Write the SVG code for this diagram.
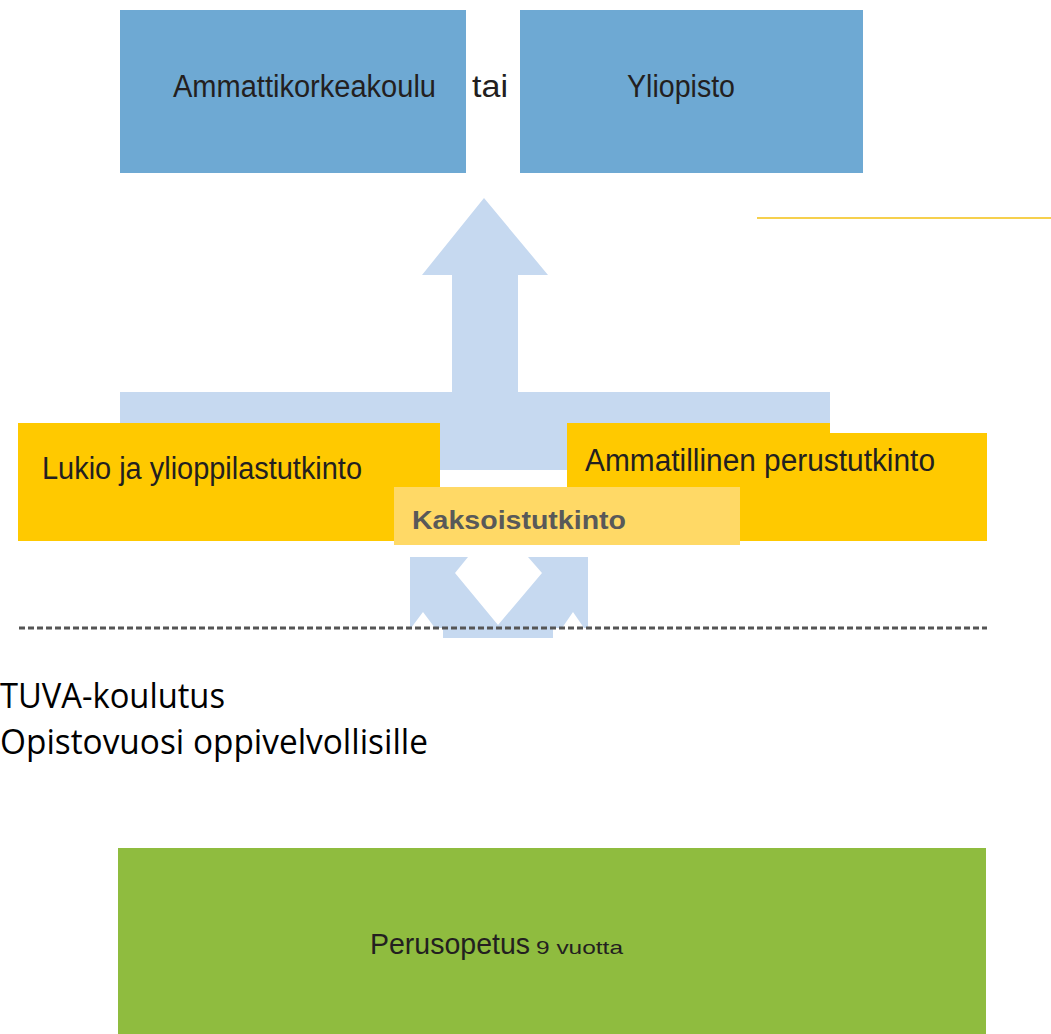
<svg xmlns="http://www.w3.org/2000/svg" width="1051" height="1034" viewBox="0 0 1051 1034">
<style>
.blue{fill:#6ea9d3}
.lb{fill:#c6d9f0}
.yel{fill:#ffc900}
.lbl{font-family:"Liberation Sans",Arial,sans-serif;fill:#231f20}
.cal{font-family:"Open Sans","Liberation Sans",sans-serif;fill:#000}
</style>
<rect width="1051" height="1034" fill="#fff"/>
<g id="connectors">
  <path class="lb" d="M452,275 L422,275 L484,198 L548,275 L518,275 L518,392 L830,392 L830,470 L120,470 L120,392 L452,392 Z"/>
  <path class="lb" d="M410,557 L468,557 L455,573 L498,625 L542,573 L528,557 L588,557 L588,628 L584,628 L573,612 L562,628 L553,628 L553,638 L443,638 L443,628 L435,628 L423,612 L411,628 L410,628 Z"/>
  <line x1="19" y1="628" x2="987" y2="628" stroke="#555" stroke-width="3" stroke-dasharray="6 3"/>
  <line x1="757" y1="218" x2="1051" y2="218" stroke="#f6d04d" stroke-width="2"/>
</g>
<g id="ammattikorkeakoulu">
  <rect class="blue" x="120" y="10" width="346" height="163"/>
  <text class="lbl" x="173" y="97" font-size="31" textLength="263" lengthAdjust="spacingAndGlyphs">Ammattikorkeakoulu</text>
</g>
<g id="tai">
  <text class="lbl" x="472" y="97" font-size="31" textLength="36" lengthAdjust="spacingAndGlyphs">tai</text>
</g>
<g id="yliopisto">
  <rect class="blue" x="520" y="10" width="343" height="163"/>
  <text class="lbl" x="627" y="97" font-size="31" textLength="108" lengthAdjust="spacingAndGlyphs">Yliopisto</text>
</g>
<g id="lukio">
  <rect class="yel" x="18" y="423" width="422" height="118"/>
  <text class="lbl" x="42" y="479" font-size="31" textLength="320" lengthAdjust="spacingAndGlyphs">Lukio ja ylioppilastutkinto</text>
</g>
<g id="ammatillinen">
  <path class="yel" d="M567,423 L830,423 L830,433 L987,433 L987,541 L567,541 Z"/>
  <text class="lbl" x="585" y="471" font-size="31" textLength="350" lengthAdjust="spacingAndGlyphs">Ammatillinen perustutkinto</text>
</g>
<g id="kaksoistutkinto">
  <rect x="394" y="487" width="346" height="58" fill="#ffd966"/>
  <text x="412" y="529" font-family="'Liberation Sans',Arial,sans-serif" font-weight="bold" font-size="26" fill="#595959" textLength="214" lengthAdjust="spacingAndGlyphs">Kaksoistutkinto</text>
</g>
<g id="tuva">
  <text class="cal" x="0" y="708" font-size="34" textLength="225" lengthAdjust="spacingAndGlyphs">TUVA-koulutus</text>
  <text class="cal" x="0" y="754" font-size="34" textLength="428" lengthAdjust="spacingAndGlyphs">Opistovuosi oppivelvollisille</text>
</g>
<g id="perusopetus">
  <rect x="118" y="848" width="868" height="186" fill="#8fbc3f"/>
  <text class="lbl" x="370" y="954" font-size="29" textLength="160" lengthAdjust="spacingAndGlyphs">Perusopetus</text>
  <text class="lbl" x="536" y="954" font-size="19" textLength="87" lengthAdjust="spacingAndGlyphs">9 vuotta</text>
</g>
</svg>
